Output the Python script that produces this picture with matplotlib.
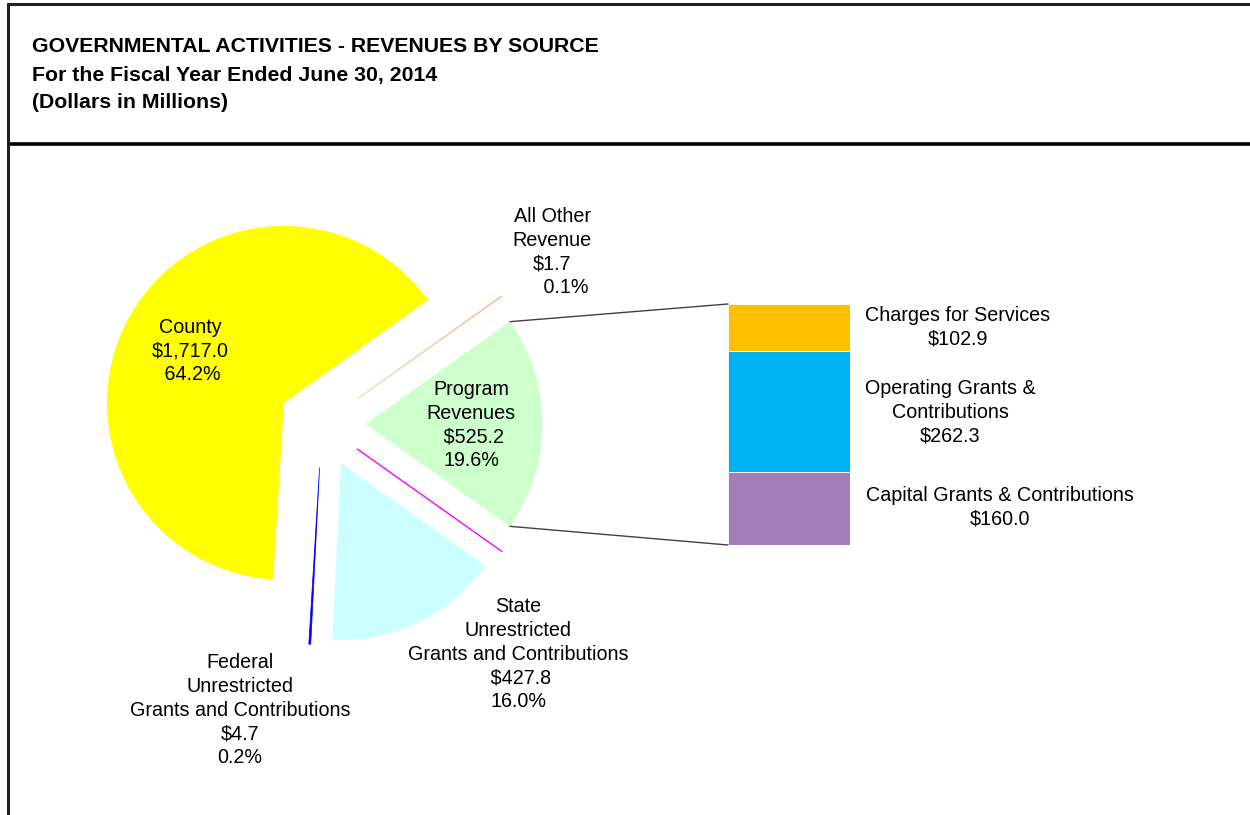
import numpy as np
import matplotlib
matplotlib.use("Agg")
import matplotlib.pyplot as plt
from matplotlib.patches import ConnectionPatch

plt.rcParams['font.family'] = ['Liberation Sans', 'DejaVu Sans']

W, H = 1250, 815

title_lines = ["GOVERNMENTAL ACTIVITIES - REVENUES BY SOURCE",
               "For the Fiscal Year Ended June 30, 2014",
               "(Dollars in Millions)"]

# Pie slices (counter-clockwise order starting with Program Revenues)
pie_names = ["Program\nRevenues", "All Other\nRevenue", "County",
             "Federal\nUnrestricted\nGrants and Contributions",
             "State\nUnrestricted\nGrants and Contributions"]
pie_values = [525.2, 1.7, 1717.0, 4.7, 427.8]
pie_pcts = [19.6, 0.1, 64.2, 0.2, 16.0]
pie_colors = ["#CCFFCC", "#F9B98A", "#FFFF00", "#0000FF", "#CCFFFF"]

# Program revenues breakdown (stacked bottom -> top)
prog_names = ["Capital Grants & Contributions",
              "Operating Grants &\nContributions",
              "Charges for Services"]
prog_values = [160.0, 262.3, 102.9]
prog_colors = ["#A47CBA", "#00B0F0", "#FFC000"]

fig = plt.figure(figsize=(W / 100, H / 100), dpi=100)
ax = fig.add_axes([0, 0, 1, 1])

def Y(py):
    return H - py

# ---- frame lines ----
ax.plot([8, 8], [Y(3), Y(H + 5)], color="#231F20", lw=2.2, solid_capstyle="butt")
ax.plot([7, W + 5], [Y(4), Y(4)], color="#231F20", lw=2.2, solid_capstyle="butt")
ax.plot([10, W + 5], [Y(143.5), Y(143.5)], color="black", lw=2.6, solid_capstyle="butt")

# ---- title ----
for txt, py in zip(title_lines, [47, 75, 102]):
    ax.text(32, Y(py), txt, fontsize=15.3, fontweight="bold", ha="left", va="center")

# ---- pie ----
total = sum(pie_values)
start = -pie_values[0] / total * 180.0
cx, cy = 322, Y(424)
R = 177
EXP = 43.5
wedges, _ = ax.pie(pie_values, colors=pie_colors, startangle=start,
                   counterclock=True, radius=R, center=(cx, cy),
                   explode=[EXP] * len(pie_values),
                   wedgeprops=dict(linewidth=0))
for w, v in zip(wedges, pie_values):
    if v / total < 0.005:
        w.set_edgecolor(w.get_facecolor())
        w.set_linewidth(0.5)

# magenta separator between State and Program slices
a = np.deg2rad(start)
d = np.array([np.cos(a), np.sin(a)])
p0 = np.array([cx, cy]) + EXP * d
p1 = np.array([cx, cy]) + (EXP + R) * d
ax.plot([p0[0], p1[0]], [p0[1], p1[1]], color="#FF00FF", lw=1.0)

ax.set_xlim(0, W)
ax.set_ylim(0, H)
ax.set_aspect("auto")
ax.axis("off")

# ---- pie labels ----
FS = 14.2
LS = 1.31
def lab(name, value, pct, x, py, extra_sp=0, extra_pct_sp=0, val_fmt="${:,.1f}"):
    s = name + "\n" + " " * extra_sp + val_fmt.format(value) + "\n" + " " * extra_pct_sp + f"{pct:.1f}%"
    ax.text(x, Y(py), s, fontsize=FS, ha="center", va="center",
            multialignment="center", linespacing=LS)

lab(pie_names[2], pie_values[2], pie_pcts[2], 190, 351, 0, 1)
lab(pie_names[0], pie_values[0], pie_pcts[0], 471, 425, 1, 0)
lab(pie_names[1], pie_values[1], pie_pcts[1], 552, 252, 0, 5)
lab(pie_names[4], pie_values[4], pie_pcts[4], 518, 654, 1, 0)
lab(pie_names[3], pie_values[3], pie_pcts[3], 240, 710, 0, 0)

# ---- stacked bar ----
bx0, bx1, by0, by1 = 728, 850, 304, 545
bax = fig.add_axes([bx0 / W, 1 - by1 / H, (bx1 - bx0) / W, (by1 - by0) / H])
bottoms = np.concatenate([[0], np.cumsum(prog_values)[:-1]])
bax.bar([0] * len(prog_values), prog_values, bottom=bottoms, width=1.0,
        color=prog_colors, edgecolor="white", linewidth=0.6)
bax.set_xlim(-0.5, 0.5)
bax.set_ylim(0, sum(prog_values))
bax.axis("off")

# connectors from program slice to bar
pw = wedges[0]
wcx, wcy = pw.center
for th, yb in [(pw.theta2, 1.0), (pw.theta1, 0.0)]:
    t = np.deg2rad(th)
    pt = (wcx + R * np.cos(t), wcy + R * np.sin(t))
    con = ConnectionPatch(xyA=pt, coordsA=ax.transData, xyB=(0, yb),
                          coordsB=bax.transAxes, color="#404040", lw=1.0)
    fig.add_artist(con)

# bar labels
bar_lab_pos = [(1000, 507), (950, 412), (958, 327)]
for name, v, (x, py) in zip(prog_names, prog_values, bar_lab_pos):
    ax.text(x, Y(py), name + "\n" + f"${v:,.1f}", fontsize=FS, ha="center",
            va="center", multialignment="center", linespacing=LS)

fig.savefig("out.png", dpi=100)
